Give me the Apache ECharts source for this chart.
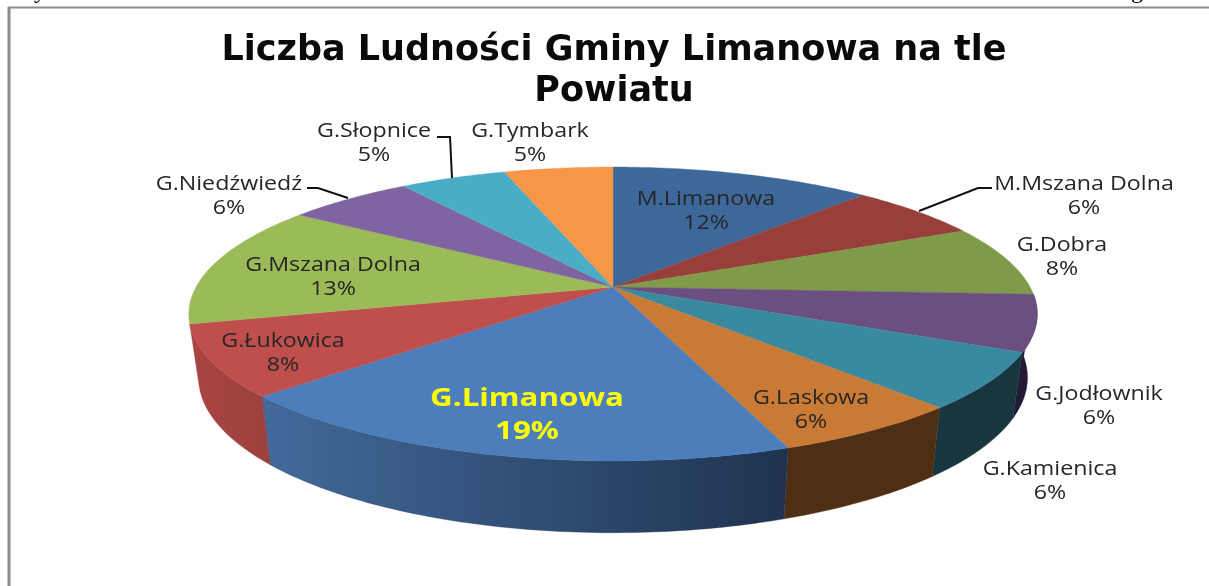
<!DOCTYPE html>
<html><head><meta charset="utf-8">
<style>html,body{margin:0;padding:0;background:#fff}#c{width:1209px;height:586px}</style>
<script src="https://cdn.jsdelivr.net/npm/echarts@6/dist/echarts.min.js"></script>
</head><body><div id="c"></div>
<script>
const titleText = 'Liczba Ludności Gminy Limanowa na tle\nPowiatu';
const categories = ['M.Limanowa','M.Mszana Dolna','G.Dobra','G.Jodłownik','G.Kamienica','G.Laskowa','G.Limanowa','G.Łukowica','G.Mszana Dolna','G.Niedźwiedź','G.Słopnice','G.Tymbark'];
const values = [11.9,6.1,7.8,6.2,6.15,6.2,18.85,7.8,13.45,5.75,4.85,4.95];
const topColors = ['#3d6899','#983f3c','#7f9a48','#6a4f80','#3a8a9f','#c97a35','#4d7ebc','#bf4f4c','#9bbb59','#8064a2','#4bacc6','#f79646'];
const sideFrom = ['#2a4668','#672a28','#566831','#241a35','#17363f','#4f2f14','#426a9b','#a94543','#6c833e','#59467a','#34788a','#ad6931'];
const sideTo   = ['#2a4668','#672a28','#566831','#241a35','#17363f','#4f2f14','#1f3350','#9c403e','#6c833e','#59467a','#34788a','#ad6931'];
const labelX = [706,1084,1062,1099,1050,811,527,283,333,229,374,530];
const labelY = [199,184,245,394,469,398,399,341,265,184,131,131];
const leaders = [
  [[919,211],[978,188],[992,188]],
  [[348,198],[318,188],[307,188]],
  [[452,178],[450,137],[437,137]]
];
const total = values.reduce((a,b)=>a+b,0);
const cum = [0]; values.forEach((v,i)=>cum.push(cum[i]+v));

// Perspective disc geometry
const CX=613, CY=287, KX=417, KY=142, P=0.1837;
function proj(theta, bottom){
  const x=Math.sin(theta), y=-Math.cos(theta), d=1-P*y;
  const X=KX*x/d, Y=KY*y/d;
  return bottom ? [CX+0.977*X, 349+1.056*Y] : [CX+X, CY+Y];
}
function arc(a0,a1,bottom){
  const n=Math.max(4,Math.ceil((a1-a0)*60)), pts=[];
  for(let k=0;k<=n;k++) pts.push(proj(a0+(a1-a0)*k/n,bottom));
  return pts;
}
const ang = i => cum[i]/total*Math.PI*2;
const rows = values.map((v,i)=>[i,v]);

function renderSide(params,api){
  const i=api.value(0), a0=ang(i), a1=ang(i+1);
  if(-Math.cos((a0+a1)/2)<=0) return null; // back walls are hidden
  const top=arc(a0,a1,false), bot=arc(a0,a1,true).reverse();
  const pts=top.concat(bot).map(p=>api.coord(p));
  const xs=pts.map(p=>p[0]);
  const fill=new echarts.graphic.LinearGradient(Math.min(...xs),0,Math.max(...xs),0,[{offset:0,color:sideFrom[i]},{offset:1,color:sideTo[i]}],true);
  return {type:'polygon',shape:{points:pts},style:{fill,stroke:sideTo[i],lineWidth:0.4}};
}
function renderTop(params,api){
  const i=api.value(0);
  const pts=[api.coord([CX,CY])].concat(arc(ang(i),ang(i+1),false).map(p=>api.coord(p)));
  return {type:'polygon',shape:{points:pts},style:{fill:topColors[i],stroke:topColors[i],lineWidth:0.4}};
}
function renderLabel(params,api){
  const i=api.value(0), big=categories[i]==='G.Limanowa';
  const c=api.coord([labelX[i],labelY[i]]);
  const font=big?'bold 25px "Open Sans"':'19.5px "Open Sans"';
  const fill=big?'#ffff00':'#262626';
  const gap=big?33:24;
  const sx=big?1.25:1.19;
  return {type:'group',children:[
    {type:'text',x:c[0],y:c[1],scaleX:sx,style:{text:categories[i],align:'center',verticalAlign:'middle',font,fill}},
    {type:'text',x:c[0],y:c[1]+gap,scaleX:sx,style:{text:Math.round(api.value(1))+'%',align:'center',verticalAlign:'middle',font,fill}}
  ]};
}
function renderLeader(params,api){
  const pts=leaders[api.value(0)].map(p=>api.coord(p));
  return {type:'polyline',shape:{points:pts},style:{fill:'none',stroke:'#111',lineWidth:2}};
}

const chart=echarts.init(document.getElementById('c'),null,{renderer:'canvas'});
chart.setOption({
  animation:false,
  backgroundColor:'#fff',
  title:{text:titleText,left:609,top:25,textAlign:'center',
    textStyle:{fontFamily:'DejaVu Sans',fontWeight:'bold',fontSize:35,lineHeight:41,color:'#0a0a0a'}},
  grid:{left:0,right:0,top:0,bottom:0},
  xAxis:{type:'value',min:0,max:1209,show:false},
  yAxis:{type:'value',min:0,max:586,inverse:true,show:false},
  graphic:[
    {type:'line',shape:{x1:8,y1:7.5,x2:1209,y2:7.5},style:{stroke:'#8c8c8c',lineWidth:2}},
    {type:'line',shape:{x1:9,y1:7,x2:9,y2:586},style:{stroke:'#8c8c8c',lineWidth:3}},
    {type:'text',x:40,y:-8,style:{text:'y',align:'center',verticalAlign:'middle',font:'24px "Liberation Serif"',fill:'#000'}},
    {type:'text',x:1137,y:-8,style:{text:'g',align:'center',verticalAlign:'middle',font:'24px "Liberation Serif"',fill:'#000'}}
  ],
  series:[
    {type:'custom',name:'side',data:rows,renderItem:renderSide,encode:{x:0,y:1},z:2,silent:true,clip:false},
    {type:'custom',name:'top',data:rows,renderItem:renderTop,encode:{x:0,y:1},z:3,silent:true,clip:false},
    {type:'custom',name:'leader',data:leaders.map((l,i)=>[i,0]),renderItem:renderLeader,encode:{x:0,y:1},z:4,silent:true,clip:false},
    {type:'custom',name:'label',data:rows,renderItem:renderLabel,encode:{x:0,y:1},z:5,silent:true,clip:false}
  ]
});
</script></body></html>
